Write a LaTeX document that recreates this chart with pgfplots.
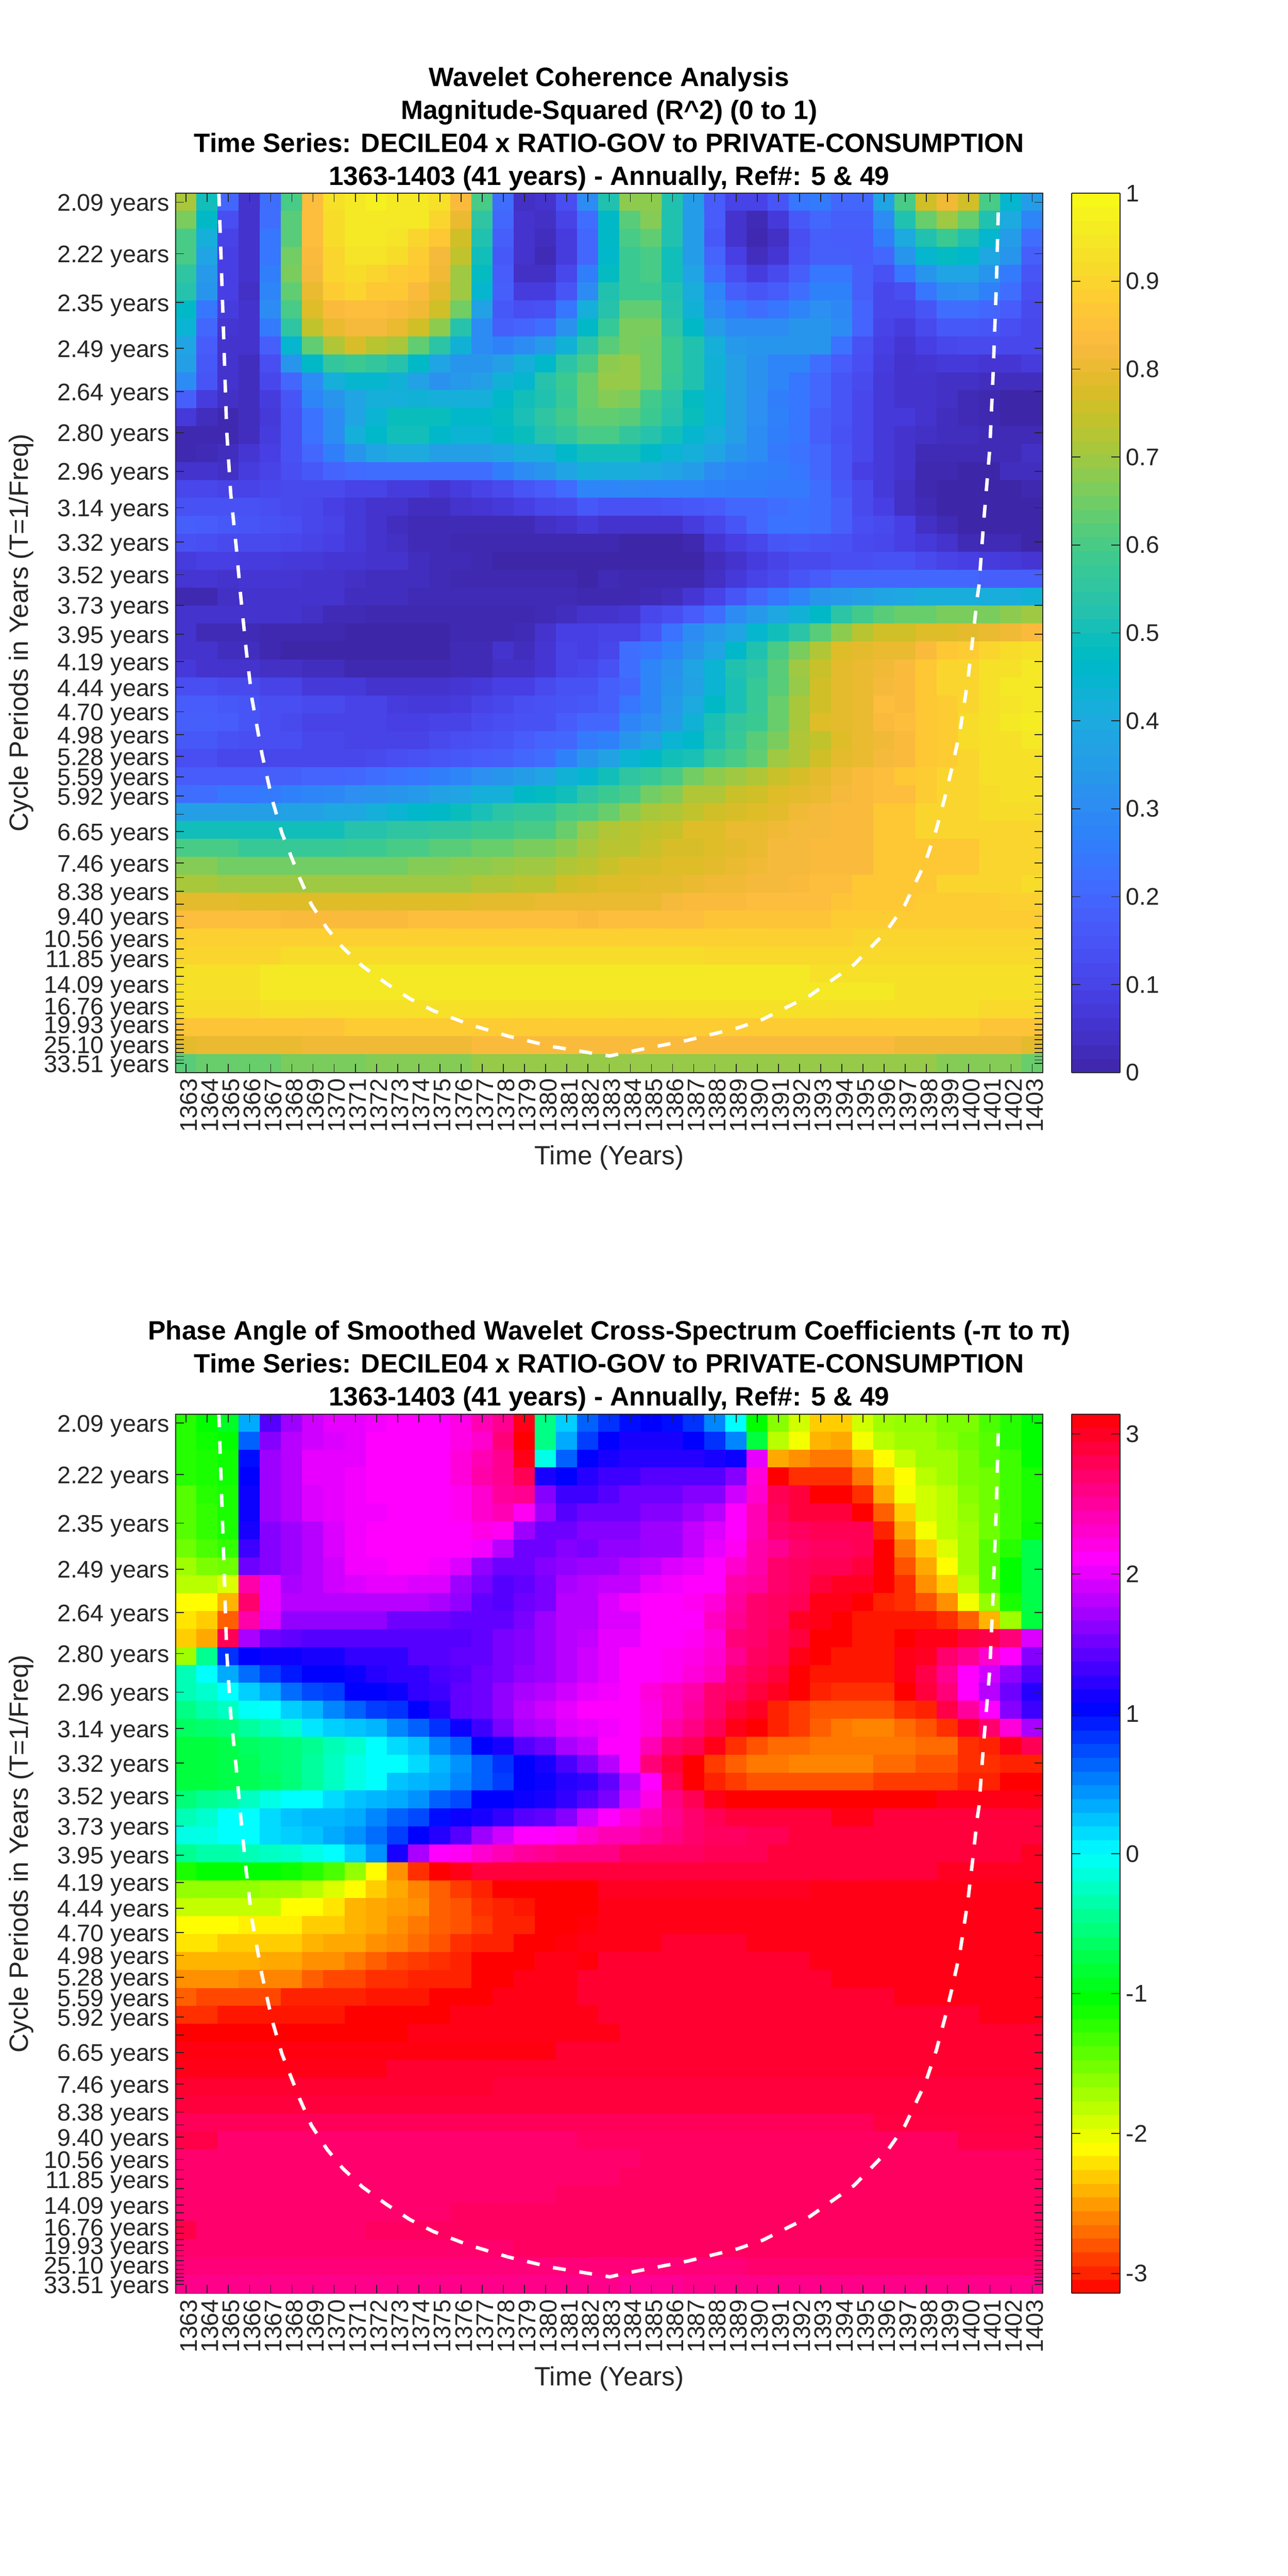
\documentclass[border=0pt]{standalone}
\usepackage{pgfplots}
\usepackage{fontspec}
\setmainfont{Liberation Sans}
\pgfplotsset{compat=1.18}
\definecolor{axc}{gray}{0.15}
\pgfplotsset{
colormap={parulam}{rgb(0pt)=(.2422,.1504,.6603); rgb(1pt)=(.2504,.1650,.7076); rgb(2pt)=(.2578,.1818,.7511); rgb(3pt)=(.2647,.1978,.7952); rgb(4pt)=(.2706,.2147,.8364); rgb(5pt)=(.2751,.2342,.8710); rgb(6pt)=(.2783,.2559,.8991); rgb(7pt)=(.2803,.2782,.9221); rgb(8pt)=(.2813,.3006,.9414); rgb(9pt)=(.2810,.3228,.9579); rgb(10pt)=(.2795,.3447,.9717); rgb(11pt)=(.2760,.3667,.9829); rgb(12pt)=(.2699,.3892,.9906); rgb(13pt)=(.2602,.4123,.9952); rgb(14pt)=(.2440,.4358,.9988); rgb(15pt)=(.2206,.4603,.9973); rgb(16pt)=(.1963,.4847,.9892); rgb(17pt)=(.1834,.5074,.9798); rgb(18pt)=(.1786,.5289,.9682); rgb(19pt)=(.1764,.5499,.9520); rgb(20pt)=(.1687,.5703,.9359); rgb(21pt)=(.1540,.5902,.9218); rgb(22pt)=(.1460,.6091,.9079); rgb(23pt)=(.1380,.6276,.8973); rgb(24pt)=(.1248,.6459,.8883); rgb(25pt)=(.1113,.6635,.8763); rgb(26pt)=(.0952,.6798,.8598); rgb(27pt)=(.0689,.6948,.8394); rgb(28pt)=(.0297,.7082,.8163); rgb(29pt)=(.0036,.7203,.7917); rgb(30pt)=(.0067,.7312,.7660); rgb(31pt)=(.0433,.7411,.7394); rgb(32pt)=(.0964,.7500,.7120); rgb(33pt)=(.1408,.7584,.6842); rgb(34pt)=(.1717,.7670,.6554); rgb(35pt)=(.1938,.7758,.6251); rgb(36pt)=(.2161,.7843,.5923); rgb(37pt)=(.2470,.7918,.5567); rgb(38pt)=(.2906,.7973,.5188); rgb(39pt)=(.3406,.8008,.4789); rgb(40pt)=(.3909,.8029,.4354); rgb(41pt)=(.4456,.8024,.3909); rgb(42pt)=(.5044,.7993,.3480); rgb(43pt)=(.5616,.7942,.3045); rgb(44pt)=(.6174,.7876,.2612); rgb(45pt)=(.6720,.7793,.2227); rgb(46pt)=(.7242,.7698,.1910); rgb(47pt)=(.7738,.7598,.1646); rgb(48pt)=(.8203,.7498,.1535); rgb(49pt)=(.8634,.7406,.1596); rgb(50pt)=(.9035,.7330,.1774); rgb(51pt)=(.9393,.7288,.2100); rgb(52pt)=(.9728,.7298,.2394); rgb(53pt)=(.9956,.7434,.2371); rgb(54pt)=(.9970,.7659,.2199); rgb(55pt)=(.9952,.7861,.1991); rgb(56pt)=(.9892,.8136,.1885); rgb(57pt)=(.9786,.8422,.1766); rgb(58pt)=(.9676,.8639,.1643); rgb(59pt)=(.9610,.8890,.1537); rgb(60pt)=(.9597,.9135,.1423); rgb(61pt)=(.9628,.9373,.1265); rgb(62pt)=(.9691,.9606,.1064); rgb(63pt)=(.9769,.9839,.0805)},
colormap={hsvm}{rgb(0pt)=(1,0,0); rgb(1pt)=(1,1,0); rgb(2pt)=(0,1,0); rgb(3pt)=(0,1,1); rgb(4pt)=(0,0,1); rgb(5pt)=(1,0,1); rgb(6pt)=(1,0,0)},
hm/.style={scale only axis,width=505.2pt,height=512.16pt,xmin=1362.5,xmax=1403.5,ymin=0.02518,ymax=0.48212,
 axis on top,tick align=inside,major tick length=5pt,tick style={draw=axc,line width=.5pt},axis line style={draw=axc,line width=.5pt},
 xtick={1363,...,1403},
 xticklabels={1363,1364,1365,1366,1367,1368,1369,1370,1371,1372,1373,1374,1375,1376,1377,1378,1379,1380,1381,1382,1383,1384,1385,1386,1387,1388,1389,1390,1391,1392,1393,1394,1395,1396,1397,1398,1399,1400,1401,1402,1403},
 ytick={.47746,.45067,.42537,.40150,.37897,.35770,.33762,.31867,.30078,.28390,.26797,.25293,.23873,.22533,.21269,.20075,.18948,.17885,.16881,.15933,.15039,.14195,.13398,.12646,.11937,.11267,.10634,.10037,.09474,.08943,.08441,.07967,.07520,.07098,.06700,.06323,.05968,.05633,.05317,.05019,.04737,.04471,.04220,.03984,.03760,.03549,.03350,.03162,.02984},
 yticklabels={2.09 years,2.22 years,2.35 years,2.49 years,2.64 years,2.80 years,2.96 years,3.14 years,3.32 years,3.52 years,3.73 years,3.95 years,4.19 years,4.44 years,4.70 years,4.98 years,5.28 years,5.59 years,5.92 years,,6.65 years,,7.46 years,,8.38 years,,9.40 years,,10.56 years,,11.85 years,,,14.09 years,,,16.76 years,,,19.93 years,,,,25.10 years,,,,,33.51 years},
 scaled y ticks=false,
 xticklabel style={rotate=90,anchor=east,yshift=-1.5pt,font=\fontsize{14}{16}\selectfont,text=axc},
 yticklabel style={yshift=-1.7pt,font=\fontsize{14}{16}\selectfont,text=axc},
 xlabel={Time (Years)},ylabel={Cycle Periods in Years (T=1/Freq)},
 every axis x label/.style={at={(axis description cs:0.5,-0.097)},anchor=center,font=\fontsize{15.4}{18}\selectfont,text=axc},
 every axis y label/.style={at={(axis description cs:-0.178,0.5)},anchor=center,rotate=90,font=\fontsize{15.4}{18}\selectfont,text=axc},
 title style={at={(0.5,1)},anchor=south,align=center,yshift=-8pt,font=\bfseries\fontsize{15.45}{19.2}\selectfont},
},
cb/.style={colorbar sampled,colorbar style={samples=65,at={(1.0333,1)},anchor=north west,width=28.1pt,
  tick align=inside,major tick length=5pt,tick style={draw=axc,line width=.5pt},axis line style={draw=axc,line width=.5pt},
  yticklabel style={font=\fontsize{14}{16}\selectfont,text=axc},#1}},
}
\begin{document}
\begin{tikzpicture}
\path (0,0) rectangle (750pt,1500.48pt);
\begin{axis}[hm,at={(102.24pt,875.76pt)},anchor=south west,
 title={Wavelet Coherence Analysis\\Magnitude-Squared (R\textasciicircum 2) (0 to 1)\\Time Series: DECILE04 x RATIO-GOV to PRIVATE-CONSUMPTION\\1363-1403 (41 years) - Annually, Ref\#: 5 \& 49},
 colormap name=parulam,point meta min=0,point meta max=1,
 cb={ytick={0,0.1,0.2,0.3,0.4,0.5,0.6,0.7,0.8,0.9,1},yticklabels={0,0.1,0.2,0.3,0.4,0.5,0.6,0.7,0.8,0.9,1}}]
\addplot[matrix plot*,mesh/cols=41,point meta={\thisrow{c}/100}] table[row sep=crcr,x expr={1363+mod(\coordindex,41)},y expr={0.47746-0.009325*floor((\coordindex+0.5)/41)}]{
c\\
71\\50\\20\\5\\22\\60\\84\\93\\95\\97\\95\\95\\93\\83\\60\\22\\4\\5\\13\\30\\52\\68\\68\\52\\35\\17\\10\\10\\15\\24\\25\\20\\20\\38\\60\\76\\81\\76\\60\\45\\35\\
66\\47\\13\\5\\22\\62\\84\\92\\95\\95\\95\\95\\90\\80\\55\\20\\5\\4\\10\\22\\47\\62\\67\\52\\35\\17\\5\\2\\7\\16\\20\\18\\18\\30\\52\\64\\70\\64\\52\\40\\28\\
60\\42\\10\\5\\24\\62\\84\\92\\95\\95\\94\\90\\87\\76\\52\\18\\5\\3\\8\\20\\47\\60\\63\\52\\35\\16\\5\\1\\4\\13\\18\\17\\17\\26\\40\\52\\58\\52\\45\\35\\22\\
60\\38\\9\\5\\24\\65\\83\\90\\94\\94\\92\\88\\82\\74\\50\\16\\5\\2\\8\\20\\46\\58\\60\\50\\35\\19\\9\\3\\6\\14\\18\\18\\17\\20\\33\\45\\48\\46\\39\\33\\18\\
55\\34\\9\\5\\26\\66\\82\\90\\92\\90\\88\\87\\81\\70\\48\\17\\4\\4\\11\\26\\48\\58\\60\\50\\38\\22\\13\\8\\12\\18\\24\\24\\18\\14\\24\\33\\38\\38\\33\\25\\15\\
53\\33\\9\\4\\28\\63\\80\\88\\90\\87\\87\\83\\79\\70\\45\\18\\8\\8\\15\\30\\52\\58\\58\\52\\41\\28\\18\\15\\17\\22\\27\\27\\18\\11\\13\\24\\30\\31\\27\\22\\13\\
47\\24\\8\\5\\30\\60\\78\\83\\84\\84\\83\\81\\76\\65\\37\\16\\13\\14\\24\\42\\53\\63\\63\\53\\43\\30\\25\\22\\24\\28\\31\\29\\19\\11\\11\\15\\22\\22\\20\\17\\12\\
44\\20\\6\\5\\25\\55\\74\\80\\82\\82\\80\\76\\68\\53\\30\\18\\19\\22\\32\\47\\57\\66\\66\\55\\47\\35\\30\\30\\30\\33\\33\\30\\19\\10\\8\\12\\16\\16\\15\\13\\11\\
38\\17\\5\\5\\18\\45\\63\\72\\77\\73\\71\\63\\54\\43\\30\\27\\30\\34\\43\\54\\62\\66\\65\\58\\52\\42\\34\\33\\33\\33\\33\\23\\14\\9\\6\\9\\11\\12\\12\\11\\11\\
36\\16\\5\\3\\13\\33\\47\\56\\58\\56\\53\\47\\38\\33\\33\\36\\42\\46\\54\\60\\68\\69\\65\\58\\52\\43\\36\\32\\28\\28\\22\\17\\13\\8\\5\\6\\7\\7\\6\\6\\8\\
30\\15\\5\\3\\11\\20\\30\\42\\45\\45\\43\\37\\32\\34\\36\\43\\45\\53\\58\\64\\69\\69\\65\\57\\52\\43\\36\\32\\28\\24\\20\\15\\12\\7\\5\\5\\4\\4\\3\\3\\3\\
18\\8\\4\\3\\8\\15\\28\\33\\38\\42\\42\\43\\42\\42\\42\\46\\50\\52\\57\\64\\67\\66\\59\\54\\48\\44\\36\\31\\26\\24\\20\\15\\11\\7\\5\\5\\4\\2\\1\\0\\0\\
7\\3\\1\\3\\7\\14\\23\\30\\38\\44\\49\\49\\49\\46\\46\\48\\51\\55\\59\\63\\63\\62\\58\\53\\49\\44\\36\\31\\27\\24\\18\\15\\11\\7\\7\\5\\3\\2\\1\\0\\0\\
1\\1\\1\\3\\8\\14\\23\\30\\42\\46\\50\\50\\46\\44\\44\\47\\49\\53\\56\\60\\60\\56\\53\\50\\45\\42\\36\\30\\26\\24\\18\\14\\11\\7\\5\\4\\3\\3\\2\\2\\2\\
1\\2\\3\\6\\9\\14\\20\\26\\33\\38\\40\\40\\36\\36\\36\\38\\41\\42\\46\\50\\50\\50\\47\\44\\42\\38\\33\\30\\25\\23\\20\\15\\11\\7\\5\\2\\2\\2\\2\\2\\4\\
5\\5\\4\\8\\10\\13\\16\\19\\21\\22\\22\\22\\22\\22\\22\\26\\30\\33\\38\\42\\41\\41\\40\\38\\35\\30\\28\\27\\26\\24\\20\\15\\9\\7\\5\\1\\1\\0\\0\\3\\3\\
11\\11\\10\\10\\11\\12\\12\\12\\10\\10\\8\\8\\6\\8\\10\\12\\15\\17\\21\\28\\28\\29\\28\\28\\28\\27\\26\\26\\25\\25\\22\\16\\12\\7\\4\\1\\0\\0\\0\\0\\1\\
14\\14\\14\\14\\13\\12\\11\\9\\7\\5\\5\\3\\3\\5\\6\\7\\9\\11\\12\\16\\14\\14\\14\\15\\16\\17\\20\\20\\22\\23\\22\\18\\12\\9\\4\\2\\0\\0\\0\\0\\0\\
18\\17\\16\\15\\14\\13\\11\\10\\7\\5\\3\\2\\2\\2\\2\\2\\2\\4\\5\\7\\5\\5\\5\\5\\8\\11\\15\\20\\23\\23\\22\\18\\13\\12\\9\\4\\2\\0\\0\\0\\0\\
14\\13\\12\\12\\12\\11\\10\\9\\7\\5\\4\\2\\2\\1\\1\\1\\1\\1\\1\\1\\1\\0\\0\\0\\1\\6\\9\\11\\15\\16\\15\\14\\12\\11\\9\\7\\5\\2\\2\\2\\0\\
8\\9\\9\\8\\8\\7\\7\\6\\6\\5\\5\\3\\2\\2\\1\\0\\0\\0\\0\\0\\0\\0\\0\\0\\0\\3\\5\\8\\10\\12\\12\\13\\13\\14\\14\\12\\10\\9\\8\\7\\6\\
6\\6\\5\\6\\6\\6\\5\\5\\4\\3\\3\\3\\2\\1\\1\\1\\1\\1\\1\\0\\2\\1\\1\\1\\1\\4\\7\\10\\12\\15\\17\\20\\20\\20\\20\\20\\20\\20\\18\\18\\18\\
1\\1\\4\\5\\5\\5\\5\\5\\3\\3\\3\\2\\2\\2\\2\\2\\2\\2\\2\\1\\1\\1\\2\\3\\6\\10\\15\\20\\24\\28\\33\\34\\36\\38\\39\\41\\41\\41\\41\\41\\43\\
5\\5\\5\\5\\5\\5\\4\\2\\2\\1\\1\\1\\1\\1\\1\\1\\1\\2\\3\\5\\5\\6\\11\\13\\17\\22\\30\\34\\39\\43\\47\\54\\59\\62\\64\\64\\66\\66\\66\\68\\70\\
5\\2\\2\\2\\1\\1\\1\\1\\0\\0\\0\\0\\0\\1\\1\\1\\2\\5\\9\\9\\10\\10\\15\\23\\30\\34\\38\\45\\50\\54\\62\\68\\73\\76\\76\\78\\78\\79\\80\\81\\83\\
5\\5\\3\\3\\1\\0\\0\\0\\0\\0\\0\\0\\0\\2\\2\\5\\3\\6\\10\\9\\11\\22\\24\\28\\33\\38\\46\\52\\60\\66\\72\\78\\79\\80\\80\\83\\87\\88\\90\\92\\93\\
7\\5\\5\\5\\4\\4\\3\\3\\1\\1\\1\\1\\1\\2\\2\\4\\4\\6\\10\\11\\14\\22\\28\\32\\38\\44\\52\\55\\62\\70\\75\\79\\80\\81\\83\\87\\90\\90\\93\\93\\95\\
13\\13\\12\\12\\10\\10\\7\\7\\7\\5\\5\\5\\5\\6\\7\\9\\9\\12\\14\\14\\18\\20\\28\\33\\37\\44\\51\\57\\62\\69\\76\\79\\80\\82\\83\\87\\90\\90\\93\\95\\95\\
17\\17\\16\\15\\13\\13\\12\\12\\10\\10\\8\\7\\7\\8\\10\\11\\13\\14\\15\\16\\18\\24\\28\\34\\40\\47\\51\\57\\64\\71\\76\\79\\80\\84\\83\\87\\88\\90\\93\\94\\95\\
18\\18\\17\\15\\13\\12\\10\\10\\10\\10\\9\\9\\10\\10\\12\\13\\14\\14\\17\\20\\20\\28\\31\\35\\43\\51\\56\\58\\64\\71\\78\\79\\80\\83\\84\\87\\88\\92\\93\\95\\96\\
16\\16\\14\\13\\13\\13\\11\\11\\10\\10\\10\\10\\12\\13\\14\\15\\17\\19\\20\\25\\27\\33\\37\\44\\46\\52\\57\\62\\66\\72\\74\\78\\80\\81\\83\\87\\88\\92\\93\\93\\95\\
13\\13\\11\\11\\11\\11\\11\\11\\11\\12\\13\\14\\15\\16\\17\\18\\20\\22\\27\\33\\37\\44\\46\\50\\51\\57\\60\\63\\70\\72\\76\\79\\80\\82\\83\\87\\88\\90\\93\\93\\93\\
17\\17\\17\\17\\18\\18\\19\\19\\20\\22\\23\\24\\26\\28\\31\\33\\35\\38\\43\\45\\50\\55\\57\\60\\65\\68\\70\\72\\75\\77\\79\\81\\83\\84\\87\\88\\90\\90\\93\\93\\93\\
22\\22\\24\\24\\25\\27\\28\\29\\31\\32\\33\\34\\37\\38\\42\\42\\47\\48\\50\\55\\58\\60\\65\\67\\72\\72\\75\\76\\78\\79\\80\\82\\83\\84\\84\\88\\90\\90\\92\\93\\93\\
36\\36\\36\\36\\36\\37\\37\\39\\39\\42\\44\\46\\47\\49\\51\\54\\56\\56\\60\\61\\64\\68\\71\\72\\74\\76\\77\\78\\79\\81\\82\\83\\83\\87\\87\\90\\90\\90\\92\\92\\92\\
50\\50\\50\\50\\50\\50\\50\\50\\53\\53\\55\\55\\56\\56\\58\\58\\60\\60\\64\\69\\72\\73\\74\\75\\78\\78\\80\\80\\81\\82\\82\\83\\83\\87\\87\\90\\90\\90\\90\\90\\90\\
60\\60\\60\\57\\57\\57\\57\\57\\58\\58\\60\\60\\62\\62\\64\\64\\66\\66\\68\\71\\73\\73\\75\\77\\77\\78\\79\\80\\82\\82\\83\\83\\83\\87\\87\\87\\87\\87\\90\\90\\90\\
67\\67\\65\\65\\65\\65\\65\\65\\65\\65\\65\\67\\67\\68\\68\\69\\70\\70\\72\\73\\75\\77\\77\\78\\78\\79\\80\\81\\82\\82\\83\\83\\83\\87\\87\\87\\87\\87\\90\\90\\90\\
71\\71\\70\\70\\70\\70\\70\\70\\70\\70\\70\\70\\70\\70\\72\\72\\73\\73\\76\\77\\78\\78\\79\\79\\80\\81\\81\\82\\82\\83\\84\\84\\87\\87\\87\\87\\90\\90\\90\\90\\92\\
79\\79\\79\\78\\78\\78\\78\\78\\78\\78\\78\\78\\78\\78\\79\\79\\79\\80\\80\\80\\80\\80\\80\\82\\83\\83\\83\\84\\84\\84\\84\\86\\87\\87\\87\\88\\88\\88\\88\\89\\89\\
84\\84\\84\\84\\84\\83\\83\\83\\83\\83\\83\\84\\84\\84\\84\\84\\84\\84\\84\\83\\84\\84\\84\\84\\84\\86\\86\\86\\86\\86\\86\\88\\88\\88\\88\\88\\88\\88\\88\\88\\88\\
89\\89\\89\\89\\89\\89\\89\\89\\89\\89\\89\\89\\89\\89\\89\\89\\89\\89\\89\\89\\89\\89\\89\\89\\89\\89\\89\\89\\89\\89\\89\\89\\90\\90\\90\\90\\90\\90\\90\\90\\90\\
90\\90\\90\\90\\90\\92\\92\\92\\92\\92\\92\\92\\92\\92\\92\\92\\92\\92\\92\\92\\92\\92\\92\\92\\92\\91\\91\\91\\91\\91\\91\\91\\91\\91\\91\\91\\91\\91\\91\\91\\91\\
93\\93\\93\\93\\95\\95\\95\\95\\95\\95\\95\\95\\95\\95\\95\\95\\95\\95\\95\\95\\95\\95\\95\\95\\95\\95\\95\\95\\95\\95\\93\\93\\93\\93\\93\\93\\93\\93\\93\\93\\93\\
93\\93\\93\\93\\95\\95\\95\\95\\95\\95\\95\\95\\95\\95\\95\\95\\95\\95\\95\\95\\95\\95\\95\\95\\95\\95\\95\\95\\95\\95\\95\\95\\95\\95\\93\\93\\93\\93\\93\\93\\93\\
92\\92\\92\\92\\93\\93\\93\\93\\93\\93\\93\\93\\93\\93\\93\\93\\93\\93\\93\\93\\93\\93\\93\\93\\93\\93\\93\\93\\93\\93\\93\\93\\93\\93\\93\\93\\93\\93\\91\\91\\91\\
86\\86\\86\\86\\86\\86\\86\\86\\88\\88\\88\\88\\88\\88\\88\\88\\88\\88\\88\\88\\88\\88\\88\\88\\88\\88\\88\\88\\88\\88\\88\\88\\88\\88\\88\\88\\88\\88\\86\\86\\86\\
79\\80\\80\\80\\80\\80\\81\\81\\81\\81\\81\\81\\81\\81\\83\\83\\83\\83\\83\\83\\83\\83\\83\\83\\83\\83\\83\\83\\83\\83\\83\\83\\83\\83\\81\\81\\81\\81\\81\\81\\79\\
62\\64\\64\\64\\64\\66\\66\\66\\66\\67\\67\\67\\67\\67\\69\\69\\69\\69\\69\\69\\69\\69\\69\\69\\69\\69\\69\\69\\69\\69\\69\\69\\69\\69\\69\\69\\67\\67\\67\\67\\64\\
};
\addplot[forget plot,white,line width=2pt,dash pattern=on 7.5pt off 8pt] coordinates {(1364.55,.482)(1364.73,.42284)(1364.92,.3586)(1365.11,.32584)(1365.38,.29714)(1365.57,.27402)(1365.85,.24382)(1366.12,.21898)(1366.59,.1905)(1367.06,.16737)(1367.53,.1496)(1368.36,.12647)(1368.93,.11234)(1369.67,.09992)(1370.41,.09007)(1371.34,.08043)(1372.47,.07144)(1373.58,.06352)(1374.69,.05731)(1376.37,.05024)(1378.24,.04403)(1380.28,.03867)(1383.03,.03375)(1383.71,.03546)(1386.69,.04189)(1389.07,.04831)(1390.26,.05281)(1392.5,.06523)(1394.58,.08129)(1396.08,.09821)(1396.98,.11234)(1397.95,.13461)(1398.46,.15131)(1398.85,.16737)(1399.22,.18429)(1399.59,.20292)(1399.96,.22947)(1400.17,.24917)(1400.4,.27209)(1400.48,.27809)(1400.7,.31085)(1400.99,.34918)(1401.14,.38601)(1401.3,.43376)(1401.4,.47552)};
\end{axis}
\begin{axis}[hm,at={(102.24pt,164.64pt)},anchor=south west,
 title={Phase Angle of Smoothed Wavelet Cross-Spectrum Coefficients (-π to π)\\Time Series: DECILE04 x RATIO-GOV to PRIVATE-CONSUMPTION\\1363-1403 (41 years) - Annually, Ref\#: 5 \& 49},
 colormap name=hsvm,point meta min=-3.14159,point meta max=3.14159,
 cb={ytick={-3,-2,-1,0,1,2,3},yticklabels={-3,-2,-1,0,1,2,3}}]
\addplot[matrix plot*,mesh/cols=41,point meta={\thisrow{c}/10}] table[row sep=crcr,x expr={1363+mod(\coordindex,41)},y expr={0.47746-0.009325*floor((\coordindex+0.5)/41)}]{
c\\
-12\\-10.5\\-9\\3.5\\14\\17\\19\\20\\20\\20.5\\21\\21\\21\\22\\24\\25.5\\30.5\\-5\\2\\6.5\\8.5\\10\\10.5\\10\\8.5\\5\\0\\-10.5\\-16\\-19\\-23\\-23\\-19\\-17\\-16.5\\-16.5\\-15.5\\-15.5\\-13.5\\-12\\-10.5\\
-12\\-11\\-10.5\\6.5\\16\\18\\19\\19.5\\20\\21\\21\\21\\21\\22\\23\\26.5\\31.4\\-5\\3.5\\8\\10.5\\11.5\\11.5\\11.5\\10.5\\8.5\\5\\-8\\-18\\-20.5\\-24\\-24.5\\-20.5\\-18\\-17\\-17\\-16\\-15\\-14\\-12\\-10.5\\
-12\\-11.5\\-11\\10\\17\\18\\20\\20\\20\\21\\21\\21\\21\\22.5\\24\\25.5\\30.5\\-1\\6.5\\10.5\\11.5\\12\\12\\12\\12\\11.5\\11\\20\\-24.5\\-25.5\\-26.5\\-26.5\\-24\\-21\\-18.5\\-17\\-17\\-15.5\\-14\\-13\\-10.5\\
-12\\-11.5\\-11\\10.5\\17\\18\\20\\20\\20.5\\21\\21\\21\\21\\22.5\\24.5\\25.5\\28\\11.5\\10.5\\12\\13\\13\\14\\14\\14\\14\\16\\22.5\\31.4\\-29.5\\-29.5\\-29.5\\-26.5\\-23\\-21\\-18\\-17\\-15.5\\-15\\-13\\-11.5\\
-14\\-12\\-11.5\\11\\17\\18\\19.5\\20\\20.5\\21\\21\\21\\21\\21.5\\23\\25\\25.5\\16\\13\\13\\14\\15\\15\\15\\16\\16\\19\\23\\28\\29\\31.4\\31.4\\-29.5\\-24.5\\-20.5\\-19\\-18\\-16\\-15\\-13\\-11.5\\
-14\\-12.5\\-11.5\\11\\17\\18\\19.5\\20\\20.5\\20.5\\21\\21\\21\\21.5\\23\\24\\21.5\\17\\14\\15\\15\\15\\16\\16\\17\\18\\21\\24\\27.5\\29\\29\\29\\31.4\\-27.5\\-23\\-19\\-18\\-16.5\\-15\\-13\\-11.5\\
-14\\-12.5\\-11.5\\11.5\\16\\17\\18\\19.5\\20.5\\21\\21\\21\\21\\21\\22\\21.5\\17\\15\\15\\16\\16\\16\\17\\17\\18.5\\19.5\\21\\24\\27\\27.5\\28\\28\\28\\-30\\-24.5\\-20.5\\-18\\-17\\-15\\-13\\-11\\
-15\\-13.5\\-12.5\\13\\16\\17\\18\\19.5\\20.5\\21\\21\\21\\21\\21\\20.5\\18\\15\\15\\16\\15.5\\16.5\\16.5\\17\\17\\18.5\\20\\21.5\\24.5\\25.5\\27\\27.5\\27.5\\28\\31.4\\-26.5\\-23\\-19.5\\-17\\-14\\-12\\-7.5\\
-17\\-15.5\\-15\\15\\16\\17\\18\\19\\20.5\\20.5\\21\\21\\20.5\\19.5\\16.5\\15\\15\\16\\16.5\\17\\17\\18\\18.5\\19.5\\20\\21\\23\\24.5\\27\\27.5\\28\\28\\29\\31.4\\-28\\-24.5\\-21\\-17\\-14\\-10.5\\-7.5\\
-18\\-18\\-19.5\\24.5\\20\\17.5\\18\\19\\19.5\\20\\20\\19.5\\19.5\\17\\15.5\\14\\14.5\\15.5\\17.5\\18\\18.5\\18.5\\20\\20.5\\21\\21\\24.5\\25\\27\\27.5\\29\\30\\30\\31.4\\-29.5\\-25.5\\-23\\-18\\-14\\-10.5\\-7.5\\
-21\\-21\\-24\\27\\20\\18\\18\\18\\18\\18\\18\\18\\17.5\\16.5\\14.5\\14\\15\\15.5\\18\\18\\19.5\\20.5\\21\\21\\21.5\\22.5\\25\\27\\27.5\\28\\30.5\\30.5\\31.4\\-30\\-29.5\\-28\\-25.5\\-20.5\\-16.5\\-11.5\\-7.5\\
-22\\-23\\-27.5\\24.5\\19.5\\16.5\\16.5\\16.5\\16.5\\16.5\\15\\15\\15\\14.5\\14.5\\14.5\\15.5\\17\\18\\18\\19.5\\19.5\\21\\21\\21\\23.5\\25.5\\27\\27.5\\30\\30.5\\31.4\\-30.5\\-30.5\\-30.5\\-30.5\\-29.5\\-27.5\\-24\\-17\\-8\\
-23\\-24.5\\28\\17.5\\15\\14.5\\14\\14\\14\\14\\14\\14\\14\\14\\14.5\\15.5\\16\\17\\18\\18.5\\20\\20\\21\\21\\21.5\\22.5\\26.5\\27\\28\\29\\31.4\\31.4\\-30.5\\-30.5\\31.4\\30.5\\30.5\\29\\28.5\\26.5\\19.5\\
-17\\-4.5\\8.5\\10.5\\11\\11\\11.5\\11.5\\12.5\\12.5\\12.5\\14\\14\\14.5\\14.5\\15.5\\16\\17\\18\\19\\20\\21\\21\\21.5\\22\\23\\25.5\\27.5\\28\\30.5\\31.4\\-30.5\\-30.5\\-30.5\\30.5\\30\\27\\25.5\\23\\21\\16\\
-3\\0\\3.5\\6\\8\\9.5\\10.5\\10.5\\11\\12\\12.5\\12.5\\13.5\\14\\15\\15.5\\16.5\\17\\18\\19\\20\\21\\21\\21.5\\22.5\\23.5\\27\\28\\29\\31.4\\-30.5\\-30.5\\-30.5\\-30.5\\30.5\\28.5\\25.5\\21\\19\\16.5\\14\\
-3\\-2\\0\\2\\3.5\\6\\7.5\\8\\10.5\\10.5\\11\\12.5\\13\\14.5\\15\\16.5\\17.5\\18\\19\\20\\20.5\\21\\22.5\\23.5\\24.5\\27\\27.5\\29\\30\\31.4\\-30\\-29.5\\-29.5\\-29.5\\31.4\\29\\26.5\\21\\18\\15\\12\\
-5\\-3.5\\-2.5\\-0.3\\0\\2\\3\\5\\6.5\\8\\8.5\\10.5\\12\\14.5\\15\\16.5\\18\\19\\20\\21\\21\\21\\22\\23.5\\25\\27\\29\\30\\-30\\-29\\-28\\-28\\-28\\-28\\-29.5\\-30\\28.5\\25\\21\\16\\13\\
-6.5\\-6\\-5.5\\-4\\-3\\-2\\1\\2\\2.5\\3\\5\\6.5\\8.5\\11\\13\\15.5\\17.5\\18\\19.5\\20\\20.5\\21\\22\\24.5\\26\\28\\30.5\\31.4\\-30\\-29\\-27.5\\-26.5\\-26\\-26\\-27\\-28\\-29.5\\30\\27\\22.5\\17.5\\
-8\\-8\\-7.5\\-6.5\\-6\\-5.5\\-4.5\\-3\\-2\\0\\1.5\\2.5\\5\\6.5\\10.5\\11.5\\14\\15\\17.5\\18.5\\21\\21\\24\\27\\28\\30.5\\-29.5\\-28\\-27\\-27\\-26.5\\-26.5\\-26.5\\-26.5\\-26.5\\-27\\-27\\-29.5\\-30\\30.5\\28\\
-8\\-8\\-7.5\\-7\\-6\\-5.5\\-4\\-2.5\\-1\\0\\0\\1.5\\3\\4.5\\6.5\\8.5\\10.5\\11.5\\13.5\\15.5\\18\\21\\26.5\\29\\31.4\\-29\\-27.5\\-26.5\\-26.5\\-26\\-26\\-26\\-26\\-27\\-27\\-28\\-28\\-29.5\\-29.5\\-30\\-30\\
-8\\-8\\-7.5\\-7\\-6.5\\-5.5\\-4\\-2.5\\-1\\0\\2.5\\3\\3.5\\5\\6.5\\8\\10.5\\11\\12\\12.5\\14.5\\18\\21\\28\\31.4\\-30\\-29\\-28\\-28\\-28\\-28\\-28\\-28\\-29\\-29\\-29\\-29\\-30\\-30\\31.4\\31.4\\
-5.5\\-4.5\\-4\\-2.5\\-1\\0\\0\\1.5\\2.5\\3\\3.5\\4.5\\6.5\\7.5\\10.5\\10.5\\11\\11.5\\12.5\\14\\15.5\\19\\22\\26\\28\\30.5\\31.4\\31.4\\31.4\\31.4\\31.4\\31.4\\31.4\\31.4\\31.4\\31.4\\30.5\\30.5\\30.5\\30.5\\30.5\\
-3\\-2\\0\\0\\1.5\\2.5\\3\\3\\3.5\\5\\6.5\\7.5\\10\\11\\11.5\\12.5\\14\\14.5\\16\\19\\21\\22.5\\24\\25.5\\27\\28\\29\\29\\29\\29\\29\\30.5\\30.5\\29\\29\\29\\29\\29\\29\\29\\29\\
-1\\-1\\0\\0\\1.5\\2\\2.5\\3.5\\4.5\\6\\8\\10.5\\12\\14\\17\\19\\21\\21\\21.5\\23\\24\\24\\25\\26\\27\\27.5\\27.5\\28\\28\\29\\29\\29\\29\\29\\29\\29\\29\\29\\29\\29\\29\\
-4.5\\-3.5\\-3.5\\-3\\-2.5\\-2\\-1\\0\\2\\4.5\\11.5\\17.5\\21\\21.5\\23\\24\\25\\25.5\\26\\26\\26\\27.5\\27.5\\27.5\\27.5\\28\\28\\28\\29\\29\\29\\29\\29\\29\\29\\29\\29\\29\\29\\29\\30\\
-11.5\\-10.5\\-10.5\\-10.5\\-10.5\\-11\\-12\\-13.5\\-16.5\\-21\\-25.5\\-29.5\\31.4\\30.5\\29\\29\\29\\29\\29\\29\\29\\29\\29\\29\\29\\29\\29\\29\\29\\29\\29\\29\\29\\29\\29\\29\\30\\30\\30\\30\\30\\
-16.5\\-16.5\\-16.5\\-16.5\\-17\\-17\\-18\\-19.5\\-21\\-23\\-24.5\\-26\\-27.5\\-29\\-30\\31.4\\31.4\\31.4\\31.4\\31.4\\30\\30\\30\\30\\30\\30\\30\\30\\30\\30\\30.5\\30.5\\30.5\\30.5\\30.5\\30.5\\30.5\\30.5\\30.5\\30.5\\30.5\\
-18.5\\-18.5\\-18.5\\-18.5\\-18.5\\-21\\-21\\-22\\-24\\-24.5\\-25\\-25.5\\-27.5\\-28\\-29.5\\-30\\-30.5\\31.4\\31.4\\31.4\\30.5\\30.5\\30.5\\30.5\\30.5\\30.5\\30.5\\30.5\\30.5\\30.5\\30.5\\30.5\\30.5\\30.5\\30.5\\30.5\\30.5\\30.5\\30.5\\30.5\\30.5\\
-21\\-21\\-21\\-21.5\\-21.5\\-21.5\\-23\\-23\\-24\\-24.5\\-25.5\\-26.5\\-27.5\\-28\\-29\\-30\\-30\\31.4\\31.4\\31\\30.5\\30.5\\30.5\\30.5\\30.5\\30.5\\30.5\\30.5\\30.5\\30.5\\30.5\\30.5\\30.5\\30.5\\30.5\\30.5\\30.5\\30.5\\30.5\\30.5\\30.5\\
-22\\-22\\-23\\-23\\-23\\-23\\-24\\-24.5\\-24.5\\-25.5\\-26\\-27\\-28\\-29.5\\-30\\-30\\31.4\\31.4\\31\\30.5\\30.5\\30.5\\30.5\\29.5\\29.5\\29.5\\29.5\\30.5\\30.5\\30.5\\30.5\\30.5\\30.5\\30.5\\30.5\\30.5\\30.5\\30.5\\30.5\\30.5\\30.5\\
-24\\-24\\-24\\-24\\-24.5\\-24.5\\-25.5\\-25.5\\-26.5\\-27.5\\-28.5\\-29\\-29.5\\-30\\31.4\\31.4\\31.4\\30.5\\30.5\\31\\29.5\\29.5\\29.5\\29.5\\29.5\\29.5\\29.5\\29.5\\29.5\\29.5\\30.5\\30.5\\30.5\\30.5\\30.5\\30.5\\30.5\\30.5\\30.5\\30.5\\30.5\\
-25.5\\-25.5\\-25.5\\-26\\-26\\-26\\-27.5\\-28.5\\-28.5\\-29.5\\-29.5\\-30\\-30\\-30\\31.4\\31.4\\30.5\\30.5\\30.5\\29.5\\29.5\\29.5\\29.5\\29.5\\29.5\\29.5\\29.5\\29.5\\29.5\\29.5\\29.5\\30.5\\30.5\\30.5\\30.5\\30.5\\30.5\\30.5\\30.5\\30.5\\30.5\\
-27.5\\-28.5\\-28.5\\-28.5\\-28.5\\-30\\-30\\-30\\-30\\-30.5\\-30.5\\-30.5\\31.4\\31.4\\31.4\\30.5\\30.5\\30.5\\30.5\\29.5\\29.5\\29.5\\29.5\\29.5\\29.5\\29.5\\29.5\\29.5\\29.5\\29.5\\29.5\\29.5\\29.5\\29.5\\30.5\\30.5\\30.5\\30.5\\30.5\\30.5\\30.5\\
-29.5\\-29.5\\-30.5\\-30.5\\-30.5\\-30.5\\-30.5\\-30.5\\31.4\\31.4\\31.4\\31.4\\31.4\\30.5\\30.5\\30.5\\30.5\\30.5\\30.5\\30.5\\29.5\\29.5\\29.5\\29.5\\29.5\\29.5\\29.5\\29.5\\29.5\\29.5\\29.5\\29.5\\29.5\\29.5\\29.5\\29.5\\29.5\\29.5\\30.5\\30.5\\30.5\\
31.4\\31.4\\31.4\\31.4\\31.4\\31.4\\31.4\\31.4\\31.4\\31.4\\31.4\\30.5\\30.5\\30.5\\30.5\\30.5\\30.5\\30.5\\30.5\\30.5\\30.5\\29.5\\29.5\\29.5\\29.5\\29.5\\29.5\\29.5\\29.5\\29.5\\29.5\\29.5\\29.5\\29.5\\29.5\\29.5\\29.5\\29.5\\29.5\\29.5\\29.5\\
30.8\\30.8\\30.8\\30.8\\30.8\\30.8\\30.8\\30.8\\30.8\\30.8\\30.8\\30.8\\30.8\\30.8\\30.8\\30.8\\30.8\\30.8\\29.5\\29.5\\29.5\\29.5\\29.5\\29.5\\29.5\\29.5\\29.5\\29.5\\29.5\\29.5\\29.5\\29.5\\29.5\\29.5\\29.5\\29.5\\29.5\\29.5\\29.5\\29.5\\29.5\\
30.5\\30.5\\30.5\\30.5\\30.5\\30.5\\30.5\\30.5\\30.5\\30.5\\29.5\\29.5\\29.5\\29.5\\29.5\\29.5\\29.5\\29.5\\29.5\\29.5\\29.5\\29.5\\29.5\\29.5\\29.5\\29.5\\29.5\\29.5\\29.5\\29.5\\29.5\\29.5\\29.5\\29.5\\29.5\\29.5\\29.5\\29.5\\29.5\\29.5\\29.5\\
29.5\\29.5\\29.5\\29.5\\29.5\\29.5\\29.5\\29.5\\29.5\\29.5\\29.5\\29.5\\29.5\\29.5\\29.5\\29\\29\\29\\29\\29\\29\\29\\29\\29\\29\\29\\29\\29\\29\\29\\29\\29\\29\\29\\29\\29\\29\\29\\29\\29\\29\\
29\\29\\29\\29\\29\\29\\29\\29\\29\\29\\29\\29\\29\\29\\29\\29\\29\\29\\29\\29\\29\\29\\29\\29\\29\\29\\29\\29\\29\\29\\29\\29\\29\\29\\29\\29\\29\\29\\29\\29\\29\\
27.8\\27.8\\27.8\\27.8\\27.8\\27.8\\27.8\\27.8\\27.8\\27.8\\27.8\\27.8\\27.8\\27.8\\27.8\\27.8\\27.8\\27.8\\27.8\\27.8\\27.8\\27.8\\27.8\\27.8\\27.8\\27.8\\27.8\\27.8\\27.8\\27.8\\27.8\\27.8\\27.8\\28.8\\28.8\\28.8\\28.8\\28.8\\28.8\\28.8\\28.8\\
28.5\\28.5\\27\\27\\27\\27\\27\\27\\27\\27\\27\\27\\27\\27\\27\\27\\27\\27\\27\\27.5\\27.5\\27.5\\27.5\\27.5\\27.5\\27.5\\27.5\\27.5\\27.5\\27.5\\27.5\\27.5\\27.5\\27.5\\27.5\\27.5\\27.5\\28.5\\28.5\\28.5\\28.5\\
27\\27\\27\\27\\27\\27\\27\\27\\27\\27\\27\\27\\27\\27\\27\\27\\27\\27\\27\\27\\27\\27\\27.5\\27.5\\27.5\\27.5\\27.5\\27.5\\27.5\\27.5\\27.5\\27.5\\27.5\\27.5\\27.5\\27.5\\27.5\\27.5\\27.5\\27.5\\27.5\\
27\\27\\27\\27\\27\\27\\27\\27\\27\\27\\27\\27\\27\\27\\27\\27\\27\\27\\27\\27\\27\\27.5\\27.5\\27.5\\27.5\\27.5\\27.5\\27.5\\27.5\\27.5\\27.5\\27.5\\27.5\\27.5\\27.5\\27.5\\27.5\\27.5\\27.5\\27.5\\27.5\\
27\\27\\27\\27\\27\\27\\27\\27\\27\\27\\27\\27\\27\\27\\27\\27\\27\\27\\27.5\\27.5\\27.5\\27.5\\27.5\\27.5\\27.5\\27.5\\27.5\\27.5\\27.5\\27.5\\27.5\\27.5\\27.5\\27.5\\27.5\\27.5\\27.5\\27.5\\27.5\\27.5\\27.5\\
27\\27\\27\\27\\27\\27\\27\\27\\27\\27\\27\\27\\27\\27.5\\27.5\\27.5\\27.5\\27.5\\27.5\\27.5\\27.5\\27.5\\27.5\\27.5\\27.5\\27.5\\27.5\\27.5\\27.5\\27.5\\27.5\\27.5\\27.5\\27.5\\27.5\\27.5\\27.5\\27.5\\27.5\\27.5\\27.5\\
28.5\\27\\27\\27\\27\\27\\27\\27\\27\\27.5\\27.5\\27.5\\27.5\\27.5\\27.5\\27.5\\27.5\\27.5\\27.5\\27.5\\27.5\\27.5\\27.5\\27.5\\27.5\\27.5\\27.5\\27.5\\27.5\\27.5\\27.5\\27.5\\27.5\\27.5\\27.5\\27.5\\27.5\\27.5\\27.5\\27.5\\27.5\\
27\\27\\27\\27\\27\\27\\27\\27\\27\\27\\27\\27\\27\\27\\27\\27\\27.5\\27.5\\27.5\\27.5\\27.5\\27.5\\27.5\\27.5\\27.5\\27.5\\27.5\\27.5\\27.5\\27.5\\27.5\\27.5\\27.5\\27.5\\27.5\\27.5\\27.5\\27.5\\27.5\\27.5\\27.5\\
26.5\\26.5\\26.5\\26.5\\26.5\\26.5\\26.5\\26.5\\26.5\\26.5\\26.5\\26.5\\26.5\\26.5\\26.5\\26.5\\26.5\\26.5\\26.5\\26.5\\26.5\\26.5\\26.5\\26.5\\26.5\\26.5\\26.5\\27\\27\\27\\27\\27\\27\\27\\27\\27\\27\\27\\27\\27\\27\\
25.8\\25.8\\25.8\\25.8\\25.8\\25.8\\25.8\\25.8\\25.8\\25.8\\25.8\\25.8\\25.8\\25.8\\25.8\\25.8\\25.8\\25.8\\25.8\\25.8\\25.8\\25.3\\25.3\\25.3\\25.8\\25.8\\25.8\\25.8\\25.8\\25.8\\25.8\\25.8\\25.8\\25.8\\25.8\\25.8\\25.8\\25.8\\25.8\\25.8\\25.8\\
};
\addplot[forget plot,white,line width=2pt,dash pattern=on 7.5pt off 8pt] coordinates {(1364.55,.482)(1364.73,.42284)(1364.92,.3586)(1365.11,.32584)(1365.38,.29714)(1365.57,.27402)(1365.85,.24382)(1366.12,.21898)(1366.59,.1905)(1367.06,.16737)(1367.53,.1496)(1368.36,.12647)(1368.93,.11234)(1369.67,.09992)(1370.41,.09007)(1371.34,.08043)(1372.47,.07144)(1373.58,.06352)(1374.69,.05731)(1376.37,.05024)(1378.24,.04403)(1380.28,.03867)(1383.03,.03375)(1383.71,.03546)(1386.69,.04189)(1389.07,.04831)(1390.26,.05281)(1392.5,.06523)(1394.58,.08129)(1396.08,.09821)(1396.98,.11234)(1397.95,.13461)(1398.46,.15131)(1398.85,.16737)(1399.22,.18429)(1399.59,.20292)(1399.96,.22947)(1400.17,.24917)(1400.4,.27209)(1400.48,.27809)(1400.7,.31085)(1400.99,.34918)(1401.14,.38601)(1401.3,.43376)(1401.4,.47552)};
\end{axis}
\end{tikzpicture}
\end{document}
